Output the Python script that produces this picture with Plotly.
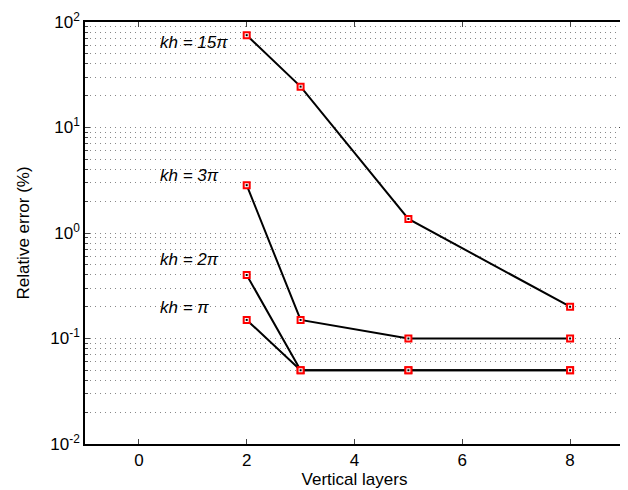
import math
import plotly.graph_objects as go

layers = [2, 3, 5, 8]
err_15pi = [75, 24.4, 1.36, 0.2]
err_3pi = [2.84, 0.15, 0.1, 0.1]
err_2pi = [0.4, 0.05, 0.05, 0.05]
err_pi = [0.15, 0.05, 0.05, 0.05]

labels = ["<i>kh</i> = 15π", "<i>kh</i> = 3π", "<i>kh</i> = 2π", "<i>kh</i> = π"]
label_x = [0.36, 0.36, 0.36, 0.36]
label_y = [64, 3.5, 0.56, 0.196]

x_ticks = [0, 2, 4, 6, 8]
y_ticks = [0.01, 0.1, 1, 10, 100]
y_ticktext = ["10<sup>-2</sup>", "10<sup>-1</sup>", "10<sup>0</sup>", "10<sup>1</sup>", "10<sup>2</sup>"]

FONT = "Liberation Sans, Arial, Helvetica"

fig = go.Figure()
for ys in [err_15pi, err_3pi, err_2pi, err_pi]:
    fig.add_trace(go.Scatter(
        x=layers, y=ys, mode="lines+markers",
        line=dict(color="black", width=2),
        marker=dict(symbol="square", size=6, color="white",
                    line=dict(color="#ff0000", width=2)),
        showlegend=False, hoverinfo="skip"))
    fig.add_trace(go.Scatter(
        x=layers, y=ys, mode="markers",
        marker=dict(symbol="square", size=2, color="black"),
        showlegend=False, hoverinfo="skip"))

for t, xx, yy in zip(labels, label_x, label_y):
    fig.add_annotation(x=xx, y=math.log10(yy), yref="y", xref="x", text="<i>" + t + "</i>",
                       showarrow=False, xanchor="left", yanchor="middle",
                       font=dict(family=FONT, size=17, color="black"))

fig.update_layout(
    width=620, height=482,
    margin=dict(l=77, r=2, t=11, b=46),
    plot_bgcolor="white", paper_bgcolor="white",
    font=dict(family=FONT, size=17, color="black"),
)
fig.update_xaxes(
    range=[-1, 9], tickvals=x_ticks, ticks="inside", ticklen=5,
    showline=True, linecolor="black", linewidth=1.5, mirror="ticks",
    showgrid=False, zeroline=False,
    title=dict(text="Vertical layers", standoff=0, font=dict(size=17)),
    tickfont=dict(size=17),
)
fig.update_yaxes(
    type="log", range=[-2, 2], tickvals=y_ticks, ticktext=y_ticktext,
    ticks="inside", ticklen=5, ticklabeloverflow="allow",
    showline=True, linecolor="black", linewidth=1.5, mirror="ticks",
    showgrid=True, gridcolor="#888888", griddash="1px,4px", gridwidth=1,
    minor=dict(ticks="inside", ticklen=3, showgrid=True, gridcolor="#888888",
               griddash="1px,4px", gridwidth=1, dtick="D1"),
    zeroline=False,
    title=dict(text="Relative error (%)", standoff=16, font=dict(size=17)),
    tickfont=dict(size=17),
)

fig.write_html("out.html")
